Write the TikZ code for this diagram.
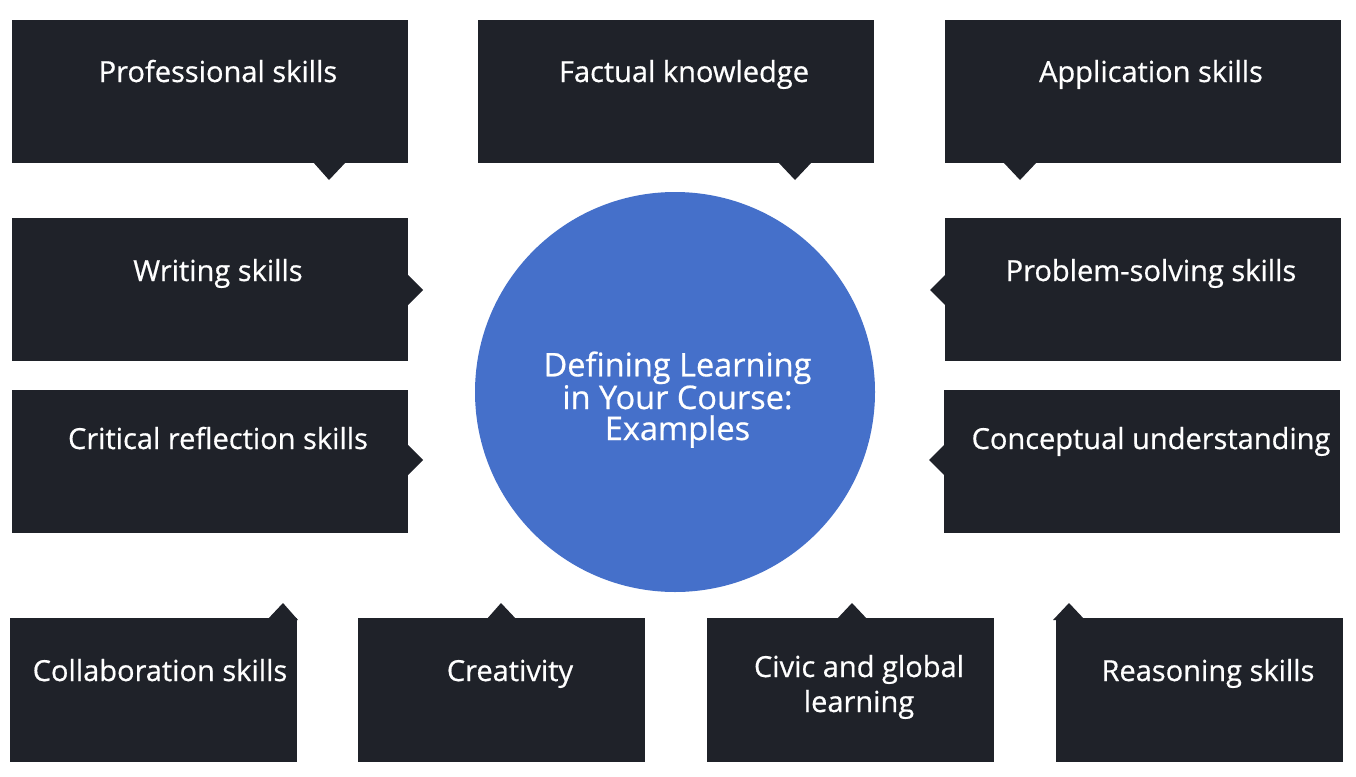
\documentclass[tikz,border=0pt]{standalone}
\usepackage{fontspec}
\setmainfont{Open Sans}
\newfontfamily\labelfont{Open Sans}[FakeBold=0.6]
\definecolor{boxdark}{HTML}{1F2229}
\definecolor{hubblue}{HTML}{4570CA}
\begin{document}
\begin{tikzpicture}[x=1pt,y=-1pt,
  card/.style={fill=boxdark, draw=none, rectangle, inner sep=0pt, anchor=north west},
  wide/.style={card, minimum width=396pt, minimum height=143pt},
  narrow/.style={card, minimum width=287pt, minimum height=144pt},
  tip/.style={fill=boxdark},
  label/.style={text=white, anchor=base, inner sep=0pt, font=\labelfont\fontsize{29}{35}\selectfont, align=center},
  hub/.style={circle, fill=hubblue, minimum size=400pt, inner sep=0pt}]
\useasboundingbox (0,0) rectangle (1356,776);
\fill[white] (0,0) rectangle (1356,776);

% centre circle
\node[hub] (hub) at (675,392) {};
\node[label, font=\labelfont\fontsize{32.5}{31}\selectfont] (hubtext) at (677.5,440) {Defining Learning\\in Your Course:\\Examples};

% top row
\node[wide] (prof) at (12,20) {};
\node[wide] (fact) at (478,20) {};
\node[wide] (appl) at (945,20) {};
\fill[tip] (313,162) -- (329,180) -- (346,162) -- cycle;
\fill[tip] (778,162) -- (795,180) -- (812,162) -- cycle;
\fill[tip] (1003,162) -- (1020,180) -- (1037,162) -- cycle;
\node[label] (proft) at (218,82) {Professional skills};
\node[label] (factt) at (684,82) {Factual knowledge};
\node[label] (applt) at (1151,82) {Application skills};

% second row
\node[wide] (writ) at (12,218) {};
\node[wide] (prob) at (945,218) {};
\fill[tip] (407,274) -- (423,290) -- (407,306) -- cycle;
\fill[tip] (946,274) -- (930,290) -- (946,306) -- cycle;
\node[label] (writt) at (218,281) {Writing skills};
\node[label] (probt) at (1151,281) {Problem-solving skills};

% third row
\node[wide] (crit) at (12,390) {};
\node[wide] (conc) at (944,390) {};
\fill[tip] (407,444) -- (423,460) -- (407,476) -- cycle;
\fill[tip] (945,444) -- (929,460) -- (945,476) -- cycle;
\node[label] (critt) at (218,449) {Critical reflection skills};
\node[label] (conct) at (1151,449) {Conceptual understanding};

% bottom row
\node[narrow] (coll) at (10,618) {};
\node[narrow] (crea) at (358,618) {};
\node[narrow] (civi) at (707,618) {};
\node[narrow] (reas) at (1056,618) {};
\fill[tip] (267,620) -- (283,603) -- (298,620) -- cycle;
\fill[tip] (486,620) -- (501,603) -- (517,620) -- cycle;
\fill[tip] (836,620) -- (852,603) -- (868,620) -- cycle;
\fill[tip] (1053,620) -- (1069,603) -- (1085,620) -- cycle;
\node[label] (collt) at (160,681) {Collaboration skills};
\node[label] (creat) at (510,681) {Creativity};
\node[label] (civit) at (859,712) {Civic and global\\learning};
\node[label] (reast) at (1208,681) {Reasoning skills};
\end{tikzpicture}
\end{document}
